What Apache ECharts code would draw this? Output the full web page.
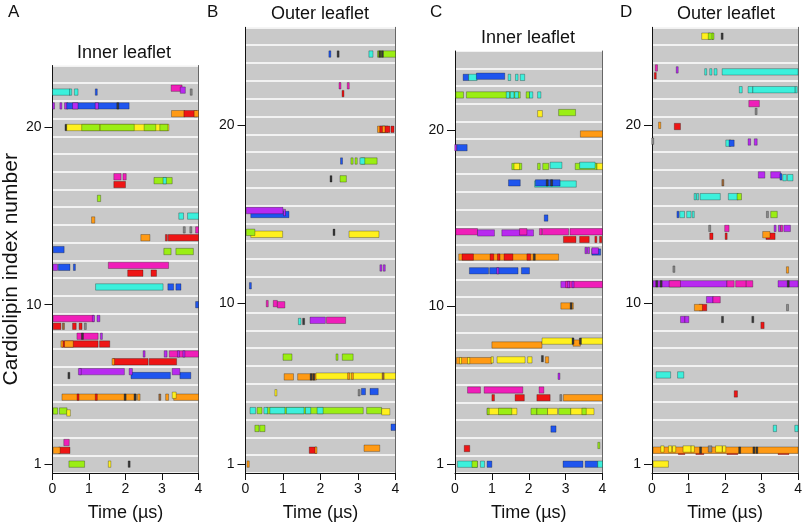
<!DOCTYPE html>
<html>
<head>
<meta charset="utf-8">
<script src="https://cdn.jsdelivr.net/npm/echarts@6/dist/echarts.min.js"></script>
<style>
html, body { margin: 0; padding: 0; background: #fff; }
#chart { width: 805px; height: 527px; }
</style>
</head>
<body>
<div id="chart"></div>
<script>
// colours used for the binding events
const colors = {
  cy: '#3cf0dc', bl: '#1f55ee', mg: '#f01eb9', pu: '#b82af0', rd: '#ee1515',
  or: '#ff9a14', ye: '#fff01e', li: '#9bee14', k: '#3a3a3a', g: '#8a8a8a', br: '#a06a3a'
};

const xTicks = [0, 1, 2, 3, 4];
const yTickLabels = [1, 10, 20];
const rowCounts = [23, 25, 24, 25];
const panelTitles = ['Inner leaflet', 'Outer leaflet', 'Inner leaflet', 'Outer leaflet'];
const panelLetters = ['A', 'B', 'C', 'D'];

// [cardiolipin index, offset inside the row (+ up / - down), start (µs), end (µs), colour]
const eventsA = [
  [22,0,0,0.48,'cy'],[22,0,0.5,0.54,'cy'],[22,0,0.6,0.7,'cy'],[22,0,1.2,1.22,'bl'],
  [22,1,3.25,3.55,'mg'],[22,0.5,3.5,3.64,'pu'],[22,0,3.8,3.8,'g'],
  [21,1,0.03,0.07,'pu'],[21,1,0.23,0.23,'pu'],[21,1,0.33,0.42,'pu'],[21,1,0.39,2.1,'bl'],
  [21,1,0.55,0.7,'pu'],[21,1,1.17,1.26,'pu'],[21,1,1.79,1.79,'k'],
  [21,-1,3.26,3.62,'or'],[21,-1,3.6,3.96,'rd'],[21,-1,3.88,4.0,'or'],
  [20,0,0.37,0.37,'k'],[20,0,0.39,3.19,'ye'],[20,0,0.8,1.29,'li'],[20,0,1.31,2.24,'li'],
  [20,0,2.51,2.83,'li'],[20,0,2.94,3.16,'li'],
  [17,1,1.68,1.88,'mg'],[17,1,1.93,2.02,'mg'],[17,-1,1.68,2.0,'rd'],[17,0,2.78,3.28,'li'],[17,0,3.03,3.12,'cy'],
  [16,0,1.23,1.32,'li'],
  [15,-1,1.07,1.16,'or'],[15,0,3.46,3.59,'cy'],[15,0,3.7,4.0,'cy'],
  [14,1,3.61,3.61,'g'],[14,1,3.79,3.79,'g'],[14,1,3.92,4.0,'mg'],[14,-1,2.42,2.67,'or'],
  [14,-1,3.12,3.12,'rd'],[14,-1,3.17,4.0,'rd'],
  [13,0.5,0.02,0.32,'bl'],[13,0,3.05,3.25,'li'],[13,0,3.38,3.86,'li'],
  [12,0.5,0.02,0.14,'pu'],[12,0.5,0.16,0.48,'bl'],[12,0.5,0.6,0.65,'bl'],[12,1,1.53,3.18,'mg'],
  [12,-1,2.06,2.48,'rd'],[12,-1,2.7,2.85,'rd'],
  [11,0,1.18,3.03,'cy'],[11,0,3.16,3.32,'bl'],[11,0,3.38,3.52,'bl'],
  [10,0,3.92,4.0,'bl'],
  [9,1,0.02,1.14,'mg'],[9,1,1.12,1.16,'pu'],[9,1,1.22,1.3,'pu'],[9,-1,0.02,0.23,'rd'],
  [9,-1,0.3,0.3,'br'],[9,-1,0.55,0.65,'rd'],[9,-1,0.73,0.81,'rd'],[9,-1,0.9,0.9,'g'],
  [8,1,0.67,1.25,'mg'],[8,1,0.82,0.82,'k'],[8,1,1.34,1.38,'pu'],[8,-1,0.27,1.25,'rd'],
  [8,-1,0.23,0.29,'or'],[8,-1,0.33,0.57,'or'],[8,-1,1.29,1.57,'rd'],
  [7,1,2.51,2.56,'pu'],[7,1,3.06,3.14,'pu'],[7,1,3.2,4.0,'mg'],[7,1,3.45,3.45,'pu'],[7,1,3.6,3.6,'pu'],
  [7,-1,1.66,2.62,'rd'],[7,-1,2.65,3.4,'rd'],[7,-1,1.63,1.7,'or'],
  [6,0,0.45,0.45,'k'],[6,1,0.74,1.97,'pu'],[6,1,0.71,0.79,'pu'],[6,0,2.15,3.23,'bl'],
  [6,1,2.1,2.19,'pu'],[6,0,3.49,3.79,'bl'],[6,1,3.28,3.49,'pu'],
  [5,-1,0.26,2.3,'or'],[5,-1,0.7,0.7,'rd'],[5,-1,1.2,1.2,'rd'],[5,-1,1.99,1.99,'k'],[5,-1,2.26,2.26,'k'],
  [5,-1,2.33,2.4,'or'],[5,-1,2.94,2.94,'br'],[5,-1,3.1,3.18,'or'],[5,-1,3.32,4.0,'or'],[5,-0.5,3.28,3.39,'ye'],
  [4,0,0.02,0.14,'li'],[4,0,0.19,0.4,'li'],[4,-0.5,0.39,0.49,'ye'],
  [2,1,0.31,0.46,'mg'],[2,-1,0.17,0.48,'rd'],[2,-1,0.02,0.21,'or'],
  [1,0,0.45,0.88,'li'],[1,0,1.53,1.6,'ye'],[1,0,2.1,2.1,'k']
];

const eventsB = [
  [24,0,2.25,2.29,'bl'],[24,0,2.47,2.47,'k'],[24,0,3.29,3.4,'cy'],[24,0,3.52,4.0,'li'],
  [24,0,3.58,3.58,'k'],[24,0,3.65,3.65,'k'],
  [22,1,2.52,2.57,'mg'],[22,1,2.74,2.74,'mg'],[22,-1,2.6,2.64,'rd'],
  [20,-1,3.52,3.8,'or'],[20,-1,3.58,3.85,'rd'],[20,-1,3.65,3.72,'or'],[20,-1,3.88,3.96,'rd'],
  [18,0,2.56,2.6,'bl'],[18,0,2.81,2.87,'li'],[18,0,2.92,2.98,'li'],[18,0,3.09,3.51,'li'],[18,0,3.05,3.18,'cy'],
  [17,0,2.28,2.31,'k'],[17,0,2.52,2.69,'li'],
  [15,0,0.14,1.16,'bl'],[15,1,0.02,1.0,'pu'],[15,0.5,1.04,1.08,'pu'],
  [14,-0.5,0.14,0.99,'ye'],[14,0,0.02,0.25,'li'],[14,0,2.36,2.36,'k'],[14,-0.5,2.76,3.56,'ye'],
  [12,0,3.61,3.63,'pu'],[12,0,3.7,3.72,'pu'],
  [11,0,0.13,0.13,'bl'],
  [10,0,0.58,0.58,'mg'],[10,0,0.74,0.85,'mg'],[10,-0.3,0.85,1.05,'mg'],
  [9,0,1.41,1.48,'cy'],[9,0,1.55,1.58,'k'],[9,0.3,1.72,2.13,'pu'],[9,0.3,2.16,2.67,'mg'],
  [7,0,1.0,1.24,'li'],[7,0,2.44,2.49,'li'],[7,0,2.58,2.87,'li'],
  [6,-0.5,1.03,1.28,'or'],[6,-0.5,1.39,1.89,'or'],[6,-0.5,1.75,1.75,'k'],[6,-0.5,1.82,1.82,'k'],
  [6,-0.3,1.88,4.0,'ye'],[6,-0.3,2.75,2.75,'or'],[6,-0.3,2.85,2.85,'or'],[6,-0.3,3.67,3.67,'br'],
  [5,0,0.81,0.85,'ye'],[5,0,3.03,3.03,'g'],[5,0.3,3.09,3.2,'bl'],[5,0.3,3.32,3.54,'bl'],
  [4,0,0.12,0.27,'cy'],[4,0,0.31,0.44,'li'],[4,0,0.56,3.14,'li'],[4,0,0.49,0.59,'cy'],
  [4,0,0.65,1.05,'cy'],[4,0,1.09,1.56,'cy'],[4,0,1.6,1.74,'cy'],[4,0,1.91,2.07,'cy'],
  [4,0,3.23,3.63,'li'],[4,-0.3,3.63,3.85,'ye'],
  [3,0,0.25,0.36,'li'],[3,0,0.38,0.52,'li'],[3,0.3,3.88,4.0,'bl'],
  [2,-1,1.7,1.89,'rd'],[2,-1,1.88,1.92,'or'],[2,-0.5,3.16,3.58,'or'],
  [1,0,0.04,0.1,'or']
];

const eventsC = [
  [23,0,0.22,0.37,'bl'],[23,0,0.37,0.6,'cy'],[23,0.3,0.58,1.35,'bl'],[23,0,1.44,1.51,'cy'],
  [23,0,1.64,1.71,'cy'],[23,0,1.77,1.89,'cy'],
  [22,0,0.02,0.23,'li'],[22,0,0.31,1.77,'li'],[22,0,1.39,1.48,'cy'],[22,0,1.5,1.6,'cy'],
  [22,0,1.62,1.72,'cy'],[22,0,1.93,2.02,'li'],[22,0,2.02,2.11,'cy'],[22,0,2.24,2.33,'cy'],
  [21,-0.3,2.24,2.37,'ye'],[21,0,2.81,3.27,'li'],
  [20,-1,3.4,4.0,'or'],
  [19,0,0.02,0.05,'pu'],[19,0,0.05,0.33,'bl'],
  [18,-0.3,1.54,1.81,'li'],[18,-0.3,1.6,1.75,'ye'],[18,-0.3,2.24,2.31,'li'],[18,-0.3,2.38,2.54,'li'],
  [18,0,2.58,2.9,'cy'],[18,-0.3,3.26,3.85,'li'],[18,0,3.38,3.8,'cy'],[18,-0.3,3.85,4.0,'ye'],
  [17,0,1.45,1.77,'bl'],[17,-0.3,2.16,3.29,'cy'],[17,0,2.18,2.85,'bl'],[17,0,2.5,2.5,'k'],[17,0,2.62,2.62,'k'],
  [15,0,2.42,2.52,'bl'],
  [14,1,0.02,0.61,'mg'],[14,0.7,0.61,1.07,'pu'],[14,0.7,1.27,2.13,'pu'],[14,1,1.75,1.95,'mg'],
  [14,1,2.29,2.36,'mg'],[14,1,2.37,3.08,'mg'],[14,1,3.12,4.0,'mg'],[14,-1,2.94,3.28,'rd'],
  [14,-1,3.38,3.64,'rd'],[14,-1,3.82,3.86,'rd'],[14,-1,3.92,3.98,'rd'],
  [13,0.7,3.55,3.58,'pu'],[13,0.7,3.62,3.64,'pu'],[13,0.3,3.71,3.95,'bl'],[13,0.6,3.71,3.89,'pu'],
  [13,-1,0.1,2.81,'or'],[13,-1,0.19,0.5,'rd'],[13,-1,0.95,1.05,'rd'],[13,-1,1.15,1.22,'rd'],
  [13,-1,1.33,1.57,'rd'],[13,-1,1.95,2.05,'rd'],[13,-1,2.15,2.15,'k'],
  [12,0,0.39,0.91,'bl'],[12,0,0.94,1.71,'bl'],[12,0,1.16,1.21,'pu'],[12,0,1.8,2.02,'bl'],
  [11,1,2.87,3.12,'pu'],[11,1,3.0,4.0,'mg'],[11,1,3.08,3.1,'pu'],[11,1,3.2,3.2,'pu'],
  [10,0,2.87,3.21,'or'],[10,0,3.15,3.15,'k'],
  [8,-1,1.0,2.36,'or'],[8,0,2.36,3.21,'ye'],[8,-0.5,3.2,3.4,'or'],[8,0,3.41,4.0,'ye'],
  [8,0,3.2,3.2,'k'],[8,0,3.4,3.4,'k'],
  [7,-0.5,0.04,1.0,'or'],[7,-0.5,0.15,0.2,'ye'],[7,-0.5,0.34,0.4,'ye'],[7,-0.3,0.98,1.04,'ye'],
  [7,-0.3,1.14,1.9,'ye'],[7,-0.3,1.97,2.09,'ye'],[7,0,2.37,2.37,'k'],[7,-0.3,2.45,2.54,'or'],
  [6,0,2.82,2.82,'pu'],
  [5,1,0.34,0.69,'mg'],[5,1,0.79,1.84,'mg'],[5,1,2.28,2.41,'mg'],[5,-1,1.0,1.07,'rd'],
  [5,-1,1.63,1.88,'rd'],[5,-1,2.22,2.58,'rd'],[5,-1,2.87,2.87,'g'],[5,-1,2.94,4.0,'or'],
  [4,0,0.87,1.68,'ye'],[4,0,1.18,1.54,'li'],[4,0,0.9,0.94,'li'],[4,0,2.06,2.22,'li'],
  [4,0,2.22,2.51,'li'],[4,0,2.51,2.78,'ye'],[4,0,2.81,3.14,'li'],[4,0,3.14,3.77,'ye'],[4,0,3.44,3.56,'li'],
  [3,0,2.6,2.74,'bl'],
  [2,-0.5,0.25,0.4,'rd'],[2,0.3,3.9,3.95,'li'],
  [1,0,0.07,0.6,'cy'],[1,0,0.46,0.61,'li'],[1,0,0.69,0.8,'cy'],[1,0,0.87,1.0,'bl'],
  [1,0,2.93,3.47,'bl'],[1,0,3.53,3.87,'bl'],[1,0,3.87,4.0,'cy']
];

const eventsD = [
  [25,0,1.36,1.6,'ye'],[25,0,1.54,1.67,'li'],[25,0,1.67,1.72,'li'],[25,0,1.92,1.92,'k'],
  [23,1,0.09,0.15,'mg'],[23,-1,0.09,0.13,'rd'],[23,0.5,0.69,0.74,'pu'],[23,0,1.47,1.52,'cy'],
  [23,0,1.58,1.64,'cy'],[23,0,1.7,1.78,'cy'],[23,0,1.92,4.0,'cy'],
  [22,0,2.39,2.47,'cy'],[22,0,2.63,2.76,'cy'],[22,0,2.76,3.92,'cy'],[22,0,3.95,4.0,'cy'],
  [21,1,2.65,2.94,'mg'],[21,-1,2.85,2.85,'g'],
  [20,0,0.18,0.24,'or'],[20,-0.3,0.61,0.78,'rd'],
  [19,0.5,0.02,0.04,'g'],[19,0,2.02,2.16,'cy'],[19,0,2.11,2.25,'bl'],[19,0.3,2.63,2.7,'pu'],[19,0.3,2.8,2.88,'pu'],
  [17,1,2.91,3.09,'pu'],[17,1,3.25,3.52,'pu'],[17,0.5,3.53,3.55,'bl'],[17,0.3,3.58,3.68,'cy'],
  [17,0.3,3.71,3.86,'cy'],[17,-1,1.94,1.98,'br'],
  [16,0,1.18,1.2,'cy'],[16,0,1.25,1.29,'cy'],[16,0,1.32,1.87,'cy'],[16,0,2.09,2.36,'cy'],[16,0,2.33,2.45,'li'],
  [15,0,0.71,0.76,'bl'],[15,0,0.76,0.89,'cy'],[15,0,0.95,1.07,'cy'],[15,0,1.13,1.13,'cy'],
  [15,0,3.16,3.16,'g'],[15,0,3.25,3.43,'li'],
  [14,1,1.58,1.58,'g'],[14,1,1.99,2.11,'mg'],[14,1,3.37,3.37,'pu'],[14,1,3.49,3.49,'pu'],
  [14,1,3.61,3.79,'pu'],[14,1,3.55,3.55,'mg'],[14,-1,1.58,1.67,'rd'],[14,-1,2.03,2.08,'rd'],
  [14,-1,3.12,3.37,'rd'],[14,-0.6,3.03,3.23,'or'],
  [12,-0.3,0.6,0.6,'g'],[12,-0.5,3.68,3.74,'or'],
  [11,0.5,0.03,2.05,'pu'],[11,0.5,0.47,0.78,'mg'],[11,0.5,2.05,2.25,'mg'],[11,0.5,2.29,2.58,'mg'],
  [11,0.5,2.58,2.76,'mg'],[11,0.5,3.45,4.0,'pu'],[11,0.5,0.13,0.13,'k'],[11,0.5,0.25,0.25,'k'],[11,0.5,3.73,3.73,'k'],
  [10,1,1.49,1.67,'pu'],[10,1,1.67,1.87,'mg'],[10,-1,1.29,1.5,'rd'],[10,-1,1.16,1.38,'or'],[10,-1,3.71,3.71,'g'],
  [9,0.5,0.78,0.9,'pu'],[9,0.5,0.9,1.01,'pu'],[9,0.5,1.93,1.93,'k'],[9,0.5,2.76,2.76,'k'],[9,-1,2.98,3.07,'rd'],
  [6,0,0.11,0.51,'cy'],[6,0,0.7,0.87,'cy'],
  [5,-0.3,2.25,2.34,'rd'],
  [3,0,3.32,3.41,'cy'],[3,0,3.91,4.0,'cy'],
  [2,-1.3,0.72,0.9,'rd'],[2,-1.3,1.2,1.42,'rd'],[2,-1.3,2.05,2.35,'rd'],[2,-1.3,3.45,3.75,'rd'],
  [2,-1,0.03,4.0,'or'],
  [2,-0.7,0.24,0.33,'ye'],[2,-0.7,0.45,0.54,'ye'],[2,-0.7,0.56,0.65,'ye'],[2,-0.7,0.85,1.07,'ye'],
  [2,-0.7,1.07,1.16,'ye'],[2,-0.7,1.54,1.64,'g'],[2,-0.7,1.74,1.92,'ye'],[2,-0.7,1.93,2.02,'ye'],
  [2,-1,1.33,1.33,'k'],[2,-1,2.4,2.4,'k'],[2,-1,2.79,2.79,'k'],[2,-1,2.87,2.87,'k'],
  [1,0,0.03,0.45,'ye']
];

const allEvents = [eventsA, eventsB, eventsC, eventsD];

// panel boxes (px)
const boxes = [
  { left: 51, top: 65.5, width: 147.5, height: 411.2 },
  { left: 245.5, top: 27.3, width: 150, height: 449.4 },
  { left: 455, top: 51, width: 147.5, height: 425.7 },
  { left: 652, top: 27.3, width: 149.5, height: 449.4 }
];
const titlePos = [[124, 44], [320, 5], [528, 29], [726, 5]];
const letterPos = [[8, 4], [207, 4], [430, 4], [620, 4]];

const FONT = 'Liberation Sans, Arial, sans-serif';

function renderEvent(params, api) {
  const y = api.value(2);
  const p0 = api.coord([api.value(0), y]);
  const p1 = api.coord([api.value(1), y]);
  const h = api.size([0, 0.36])[1];
  let x = p0[0];
  let w = p1[0] - p0[0];
  if (w < 2) { x = x - 1; w = 2; }
  return {
    type: 'rect',
    shape: { x: x, y: p0[1] - h / 2, width: w, height: h },
    style: api.style()
  };
}

const grid = [], xAxis = [], yAxis = [], series = [], graphic = [];
boxes.forEach(function (b, i) {
  const n = rowCounts[i];
  grid.push({
    left: b.left, top: b.top, width: b.width, height: b.height,
    show: true, backgroundColor: '#c9c9c9', borderWidth: 0
  });
  xAxis.push({
    gridIndex: i, type: 'value', min: 0, max: 4, interval: 1,
    axisLine: { lineStyle: { color: '#111', width: 1 } },
    axisTick: { length: 7, lineStyle: { color: '#111' } },
    axisLabel: { color: '#111', fontSize: 14, fontFamily: FONT, margin: 9,
      customValues: xTicks },
    splitLine: { show: false },
    name: 'Time (µs)', nameLocation: 'middle', nameGap: 31,
    nameTextStyle: { color: '#111', fontSize: 18, fontFamily: FONT }
  });
  yAxis.push({
    gridIndex: i, type: 'value', min: 0.5, max: n + 0.5, position: 'left',
    axisLine: { show: true, lineStyle: { color: '#111', width: 1 } },
    axisTick: { show: true, length: 8, customValues: yTickLabels, lineStyle: { color: '#111' } },
    axisLabel: { color: '#111', fontSize: 14, fontFamily: FONT, margin: 11, customValues: yTickLabels },
    splitLine: { show: false },
    name: i === 0 ? 'Cardiolipin index number' : '',
    nameLocation: 'middle', nameGap: 30, nameRotate: 90,
    nameTextStyle: { color: '#111', fontSize: 21, fontFamily: FONT }
  });
  // row separators
  yAxis.push({
    gridIndex: i, type: 'value', min: 0.5, max: n + 0.5, interval: 1, position: 'right',
    axisLine: { show: true, lineStyle: { color: '#666', width: 1 } },
    axisTick: { show: false }, axisLabel: { show: false },
    splitLine: { show: true, lineStyle: { color: '#ffffff', width: 1.5 } }
  });
  series.push({
    type: 'custom', xAxisIndex: i, yAxisIndex: i * 2,
    renderItem: renderEvent,
    encode: { x: [0, 1], y: 2 },
    itemStyle: { borderColor: 'rgba(0,0,0,0.35)', borderWidth: 0.8 },
    silent: true, animation: false,
    data: allEvents[i].map(function (e) {
      return { value: [e[2], e[3], e[0] + e[1] * 0.22], itemStyle: { color: colors[e[4]] } };
    })
  });
  graphic.push({
    type: 'text', x: titlePos[i][0], y: titlePos[i][1],
    style: { text: panelTitles[i], font: '18px ' + FONT, fill: '#111',
      align: 'center', textAlign: 'center', verticalAlign: 'top', textVerticalAlign: 'top' }
  });
  graphic.push({
    type: 'text', x: letterPos[i][0], y: letterPos[i][1],
    style: { text: panelLetters[i], font: '17px ' + FONT, fill: '#111',
      verticalAlign: 'top', textVerticalAlign: 'top' }
  });
});

const chart = echarts.init(document.getElementById('chart'), null, { renderer: 'canvas' });
chart.setOption({
  animation: false,
  backgroundColor: '#ffffff',
  grid: grid, xAxis: xAxis, yAxis: yAxis, series: series, graphic: graphic
});
</script>
</body>
</html>
